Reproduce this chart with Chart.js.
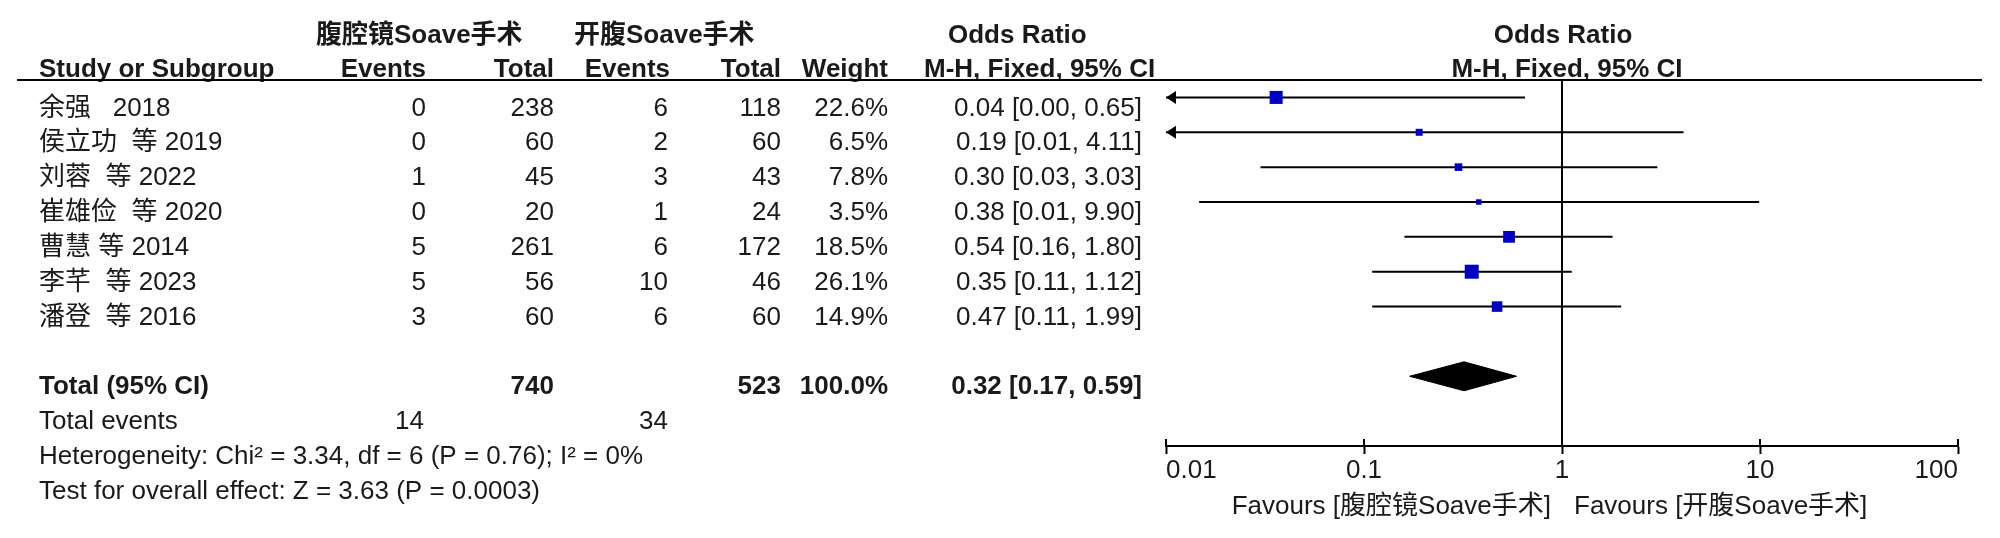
<!DOCTYPE html>
<html>
<head>
<meta charset="utf-8">
<script src="https://cdn.jsdelivr.net/npm/chart.js@4.4.0/dist/chart.umd.min.js"></script>
<style>
  html, body { margin: 0; padding: 0; background: #fff; }
  #wrap { width: 2000px; height: 538px; position: relative; }
</style>
</head>
<body>
<div id="wrap"><canvas id="forest"></canvas></div>
<script>
// 研究数据
const studies = ['余强   2018', '侯立功  等 2019', '刘蓉  等 2022', '崔雄俭  等 2020', '曹慧 等 2014', '李芊  等 2023', '潘登  等 2016'];
const lapEvents = [0, 0, 1, 0, 5, 5, 3];
const lapTotal = [238, 60, 45, 20, 261, 56, 60];
const openEvents = [6, 2, 3, 1, 6, 10, 6];
const openTotal = [118, 60, 43, 24, 172, 46, 60];
const weights = [22.6, 6.5, 7.8, 3.5, 18.5, 26.1, 14.9];
const orValue = [0.036, 0.19, 0.30, 0.38, 0.54, 0.35, 0.47];
const ciLow = [0.004, 0.009, 0.03, 0.0147, 0.16, 0.11, 0.11];
const ciHigh = [0.65, 4.11, 3.03, 9.90, 1.80, 1.12, 1.99];

// 合计
const totalLap = 740, totalOpen = 523;
const eventsLap = 14, eventsOpen = 34;
const pooledOR = 0.32, pooledLow = 0.17, pooledHigh = 0.59;
const heterogeneityText = 'Heterogeneity: Chi² = 3.34, df = 6 (P = 0.76); I² = 0%';
const overallText = 'Test for overall effect: Z = 3.63 (P = 0.0003)';

const tickValues = [0.01, 0.1, 1, 10, 100];
const favourLeft = 'Favours [腹腔镜Soave手术]';
const favourRight = 'Favours [开腹Soave手术]';

const TXT = '#1a1a1a';
const font = (bold) => (bold ? 'bold ' : '') + '26px "Liberation Sans", Arial, "Noto Sans CJK SC", sans-serif';
const POOLED_ROW = studies.length + 1;

/**
 * 表格文字, 表头线, 箭头
 */
const tablePlugin = {
	id: 'forestTable',
	afterDraw(chart) {
		const ctx = chart.ctx;
		const xs = chart.scales.x, ys = chart.scales.y;
		const rowY = (k) => ys.getPixelForValue(k) + 11;
		const put = (txt, px, py, align, bold) => {
			ctx.font = font(bold);
			ctx.textAlign = align;
			ctx.fillText(txt, px, py);
		};
		ctx.save();
		ctx.fillStyle = TXT;
		ctx.textBaseline = 'middle';

		// 表头
		put('腹腔镜Soave手术', 316, 36, 'left', true);
		put('开腹Soave手术', 574, 36, 'left', true);
		put('Odds Ratio', 948, 36, 'left', true);
		put('Odds Ratio', 1563, 36, 'center', true);
		put('Study or Subgroup', 39, 70, 'left', true);
		put('Events', 426, 70, 'right', true);
		put('Total', 554, 70, 'right', true);
		put('Events', 670, 70, 'right', true);
		put('Total', 781, 70, 'right', true);
		put('Weight', 888, 70, 'right', true);
		put('M-H, Fixed, 95% CI', 924, 70, 'left', true);
		put('M-H, Fixed, 95% CI', 1567, 70, 'center', true);

		// 各研究
		studies.forEach((s, i) => {
			const py = rowY(i);
			put(s, 39, py, 'left', false);
			put(String(lapEvents[i]), 426, py, 'right', false);
			put(String(lapTotal[i]), 554, py, 'right', false);
			put(String(openEvents[i]), 668, py, 'right', false);
			put(String(openTotal[i]), 781, py, 'right', false);
			put(weights[i].toFixed(1) + '%', 888, py, 'right', false);
			put(orValue[i].toFixed(2) + ' [' + ciLow[i].toFixed(2) + ', ' + ciHigh[i].toFixed(2) + ']', 1142, py, 'right', false);
		});

		// 合计
		let py = rowY(POOLED_ROW);
		put('Total (95% CI)', 39, py, 'left', true);
		put(String(totalLap), 554, py, 'right', true);
		put(String(totalOpen), 781, py, 'right', true);
		put('100.0%', 888, py, 'right', true);
		put(pooledOR.toFixed(2) + ' [' + pooledLow.toFixed(2) + ', ' + pooledHigh.toFixed(2) + ']', 1142, py, 'right', true);
		py = rowY(POOLED_ROW + 1);
		put('Total events', 39, py, 'left', false);
		put(String(eventsLap), 424, py, 'right', false);
		put(String(eventsOpen), 668, py, 'right', false);
		put(heterogeneityText, 39, rowY(POOLED_ROW + 2), 'left', false);
		put(overallText, 39, rowY(POOLED_ROW + 3), 'left', false);

		// Favours
		const one = xs.getPixelForValue(1);
		put(favourLeft, one - 11, 507, 'right', false);
		put(favourRight, one + 12, 507, 'left', false);

		// 表头下划线
		ctx.strokeStyle = '#000';
		ctx.lineWidth = 2;
		ctx.beginPath();
		ctx.moveTo(17, chart.chartArea.top);
		ctx.lineTo(1982, chart.chartArea.top);
		ctx.stroke();

		// 刻度向上部分
		ctx.beginPath();
		tickValues.forEach(v => {
			const px = xs.getPixelForValue(v);
			ctx.moveTo(px, chart.chartArea.bottom);
			ctx.lineTo(px, chart.chartArea.bottom - 7);
		});
		ctx.stroke();

		// 超出范围的箭头
		ctx.fillStyle = '#000';
		ciLow.forEach((lo, i) => {
			if (lo < xs.min) {
				const cy = ys.getPixelForValue(i);
				ctx.beginPath();
				ctx.moveTo(xs.left, cy);
				ctx.lineTo(xs.left + 10, cy - 6.5);
				ctx.lineTo(xs.left + 10, cy + 6.5);
				ctx.closePath();
				ctx.fill();
			}
		});
		ctx.restore();
	}
};

const squareSet = {
	data: orValue.map((v, i) => ({ x: v, y: i })),
	pointStyle: 'rect',
	backgroundColor: '#0000c4',
	borderWidth: 0,
	pointRadius: (c) => Math.max(5.5, 2.74 * Math.sqrt(weights[c.dataIndex] || 0)) / Math.SQRT2,
	order: 0
};

const diamondSet = {
	data: [
		{ x: pooledLow, y: POOLED_ROW },
		{ x: pooledOR, y: POOLED_ROW - 0.416 },
		{ x: pooledHigh, y: POOLED_ROW },
		{ x: pooledOR, y: POOLED_ROW + 0.416 },
		{ x: pooledLow, y: POOLED_ROW }
	],
	showLine: true,
	fill: 'shape',
	backgroundColor: '#000',
	borderColor: '#000',
	borderWidth: 1,
	pointRadius: 0,
	order: 1
};

const ciSets = studies.map((s, i) => ({
	data: [{ x: ciLow[i], y: i }, { x: ciHigh[i], y: i }],
	showLine: true,
	borderColor: '#000',
	borderWidth: 2,
	pointRadius: 0,
	order: 2
}));

const nullLine = {
	data: [{ x: 1, y: -0.5 }, { x: 1, y: 10 }],
	showLine: true,
	borderColor: '#000',
	borderWidth: 2,
	pointRadius: 0,
	order: 3
};

new Chart(document.getElementById('forest'), {
	type: 'scatter',
	data: { datasets: [squareSet, diamondSet].concat(ciSets, [nullLine]) },
	options: {
		responsive: true,
		maintainAspectRatio: false,
		animation: false,
		events: [],
		layout: { padding: { left: 1166, right: 42, top: 80, bottom: 42 } },
		plugins: { legend: { display: false }, tooltip: { enabled: false } },
		scales: {
			x: {
				type: 'logarithmic',
				min: 0.01,
				max: 100,
				afterBuildTicks: (s) => { s.ticks = tickValues.map(v => ({ value: v })); },
				afterFit: (s) => { s.height = 50; },
				border: { display: true, color: '#000', width: 2 },
				grid: { display: true, drawOnChartArea: false, drawTicks: true, tickLength: 8, tickWidth: 2, tickColor: '#000' },
				ticks: {
					autoSkip: false,
					maxRotation: 0,
					align: 'inner',
					padding: 1,
					color: TXT,
					font: { family: '"Liberation Sans", Arial, sans-serif', size: 26 },
					callback: (v) => String(v)
				}
			},
			y: {
				type: 'linear',
				min: -0.5,
				max: 10,
				reverse: true,
				display: false
			}
		}
	},
	plugins: [tablePlugin]
});
</script>
</body>
</html>
